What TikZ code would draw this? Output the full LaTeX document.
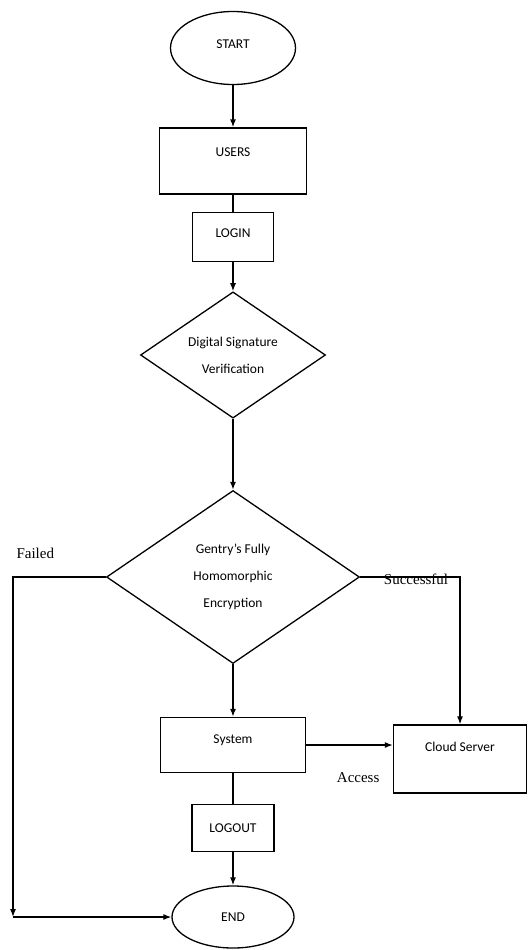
\documentclass[tikz,border=0pt]{standalone}
\usepackage{fontspec}
\setmainfont{Carlito}
\newfontfamily\lblfont{Liberation Serif}
\usepackage{tikz}
\usetikzlibrary{arrows.meta}
\usetikzlibrary{shapes}
\usetikzlibrary{positioning}
\tikzstyle{block} = [draw, rectangle, line width=1.3pt,
    font=\fontsize{13.5}{16}\selectfont]
\tikzstyle{decision} = [draw, diamond, line width=1.3pt, inner sep=0pt,
    align=center, font=\fontsize{13.5}{27}\selectfont]
\tikzstyle{terminal} = [draw, ellipse, line width=1.3pt,
    font=\fontsize{13.5}{16}\selectfont]
\tikzstyle{output} = [coordinate]
\tikzstyle{edgetext} = [font=\lblfont\fontsize{15}{18}\selectfont]
\begin{document}
\begin{tikzpicture}[x=1pt, y=1pt, node distance=2cm, >={Latex[length=8pt,width=6pt]}, line width=1.3pt]
    \useasboundingbox (0,0) rectangle (532,-950);
    % The main flow runs straight down the page
    \node [terminal, minimum width=125pt, minimum height=73pt, text depth=8pt] (start) at (233,-48) {START};
    \node [block, below of=start, node distance=113pt, minimum width=147pt,
            minimum height=66pt, text depth=18pt] (users) {USERS};
    \node [block, below of=users, node distance=76pt, minimum width=81pt,
            minimum height=49pt, text depth=8pt] (login) {LOGIN};
    \node [decision, below of=login, node distance=118pt, minimum width=185pt,
            minimum height=111pt] (verify) {Digital Signature\\Verification};
    \node [decision, below of=verify, node distance=222pt, minimum width=253pt,
            minimum height=173pt] (gentry) {Gentry's Fully\\Homomorphic\\Encryption};
    \node [block, below of=gentry, node distance=168pt, minimum width=145pt,
            minimum height=55pt, text depth=12pt] (system) {System};
    \node [block, right of=system, node distance=227pt, yshift=-14pt, minimum width=133pt,
            minimum height=68pt, text depth=24pt] (cloud) {Cloud Server};
    \node [block, below of=system, node distance=83pt, minimum width=82pt,
            minimum height=47pt] (logout) {LOGOUT};
    \node [terminal, below of=logout, node distance=89pt, minimum width=122pt,
            minimum height=62pt] (end) {END};
    % corner of the failure branch, left of END
    \node [output, left of=end, node distance=220pt] (failed) {};
    % Connect the blocks
    \draw [->] (start) -- (users);
    \draw (users) -- (login);
    \draw [->] (login) -- (verify);
    \draw [->] (verify) -- (gentry);
    \draw [->] (gentry) -- (system);
    \draw [->] (gentry.east) -| node [edgetext, pos=0.28, yshift=-2pt] {Successful} (cloud.north);
    \draw [->] (gentry.west) -| node [edgetext, pos=0.38, above=14pt] {Failed} (failed);
    \draw [->] (failed) -- (end);
    \draw [->] (system.east) -- node [edgetext, pos=0.6, below=24pt] {Access} (system.east -| cloud.west);
    \draw (system) -- (logout);
    \draw [->] (logout) -- (end);
\end{tikzpicture}
\end{document}
